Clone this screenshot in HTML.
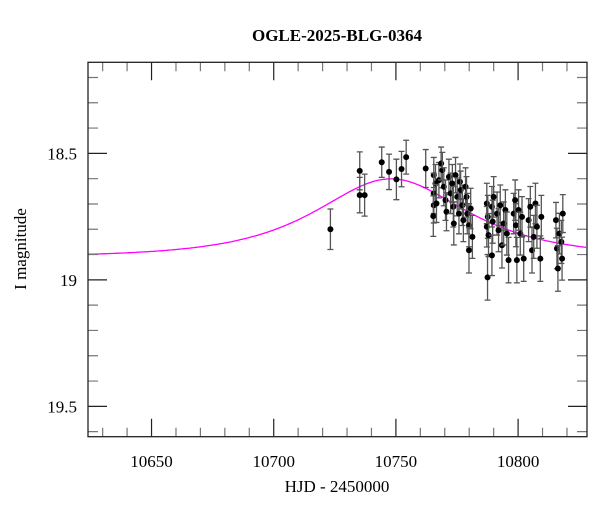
<!DOCTYPE html>
<html><head><meta charset="utf-8"><style>
body{margin:0;background:#fff;}
svg{display:block;font-family:"Liberation Serif",serif;}
</style></head><body>
<svg id="chart" width="600" height="512">
<text x="337" y="41" text-anchor="middle" font-size="17" font-weight="bold">OGLE-2025-BLG-0364</text>
<text x="337" y="492" text-anchor="middle" font-size="17">HJD - 2450000</text>
<text transform="translate(26,249) rotate(-90)" text-anchor="middle" font-size="17">I magnitude</text>
<g id="plot"></g>
</svg>
<script>
const xTicks=[10650,10700,10750,10800];
const yTicks=[18.5,19,19.5];
const yTickLabels=["18.5","19","19.5"];
const hjd=[10723.2,10735.2,10735.2,10737.2,10744.2,10747.2,10750.2,10752.3,10754.2,10762.2,
10765.5,10766.2,10765.5,10765.5,10765.3,10766.6,10767.6,10768.5,10769,10769.6,10770.3,10770.7,10771.7,10772.4,10773.1,10773.5,10773.7,10774.4,10775.1,10775.8,10776.2,10776.5,10777.2,10777.6,10778.5,10778.9,10779.2,10779.9,10780.6,10781.3,10779.9,
10787.2,10787.6,10787.2,10787.9,10787.5,10789.3,10789.6,10789.3,10790,10791.4,10792,10792.7,10793.4,10794.1,10794.8,10795.4,10796.1,10798.2,10798.8,10799.1,10799.5,10800.2,10800.9,10801.6,10802.3,10804.3,10805,10805.7,10806.4,10807.1,10807.7,10809.1,10809.5,
10815.5,10815.9,10816.3,10816.9,10817.7,10818.3,10818];
const mag=[18.80,18.569,18.665,18.665,18.535,18.573,18.603,18.562,18.515,18.56,
18.586,18.619,18.658,18.705,18.748,18.698,18.606,18.54,18.566,18.632,18.685,18.731,18.593,18.658,18.619,18.711,18.777,18.586,18.672,18.738,18.612,18.645,18.705,18.764,18.632,18.672,18.738,18.784,18.718,18.83,18.883,
18.698,18.751,18.79,18.823,18.99,18.711,18.77,18.903,18.672,18.738,18.804,18.705,18.863,18.777,18.724,18.817,18.922,18.738,18.685,18.784,18.922,18.724,18.817,18.751,18.916,18.764,18.711,18.883,18.83,18.698,18.79,18.916,18.751,
18.764,18.876,18.955,18.817,18.85,18.738,18.916];
const magErr=[0.08,0.075,0.07,0.083,0.06,0.07,0.08,0.07,0.067,0.075,
0.07,0.075,0.08,0.07,0.08,0.075,0.07,0.065,0.07,0.075,0.08,0.075,0.07,0.08,0.075,0.08,0.085,0.07,0.075,0.08,0.07,0.075,0.08,0.085,0.075,0.08,0.08,0.085,0.08,0.085,0.09,
0.08,0.085,0.08,0.085,0.09,0.08,0.085,0.08,0.08,0.085,0.085,0.08,0.09,0.085,0.08,0.085,0.09,0.08,0.08,0.085,0.09,0.08,0.085,0.08,0.09,0.085,0.08,0.09,0.085,0.08,0.085,0.09,0.085,
0.07,0.08,0.09,0.08,0.085,0.075,0.085];
// model parameters (Paczynski curve)
const modelT0=10748, modelU0=0.9, modelTE=40, modelFs=0.778, modelBase=18.91;

const L=88,R=587,T=62.3,B=436.7;
const X0=10624,X1=10828.2,Y0=18.14,Y1=19.62;
const sx=v=>L+(v-X0)/(X1-X0)*(R-L);
const sy=v=>T+(v-Y0)/(Y1-Y0)*(B-T);
const NS="http://www.w3.org/2000/svg";
const g=document.getElementById('plot');
function mk(tag,attrs){const e=document.createElementNS(NS,tag);for(const k in attrs)e.setAttribute(k,attrs[k]);g.appendChild(e);return e;}

// model curve
let d="";
for(let px=L;px<=R;px+=2){
  const t=X0+(px-L)/(R-L)*(X1-X0);
  const tau=(t-modelT0)/modelTE;
  const u=Math.sqrt(modelU0*modelU0+tau*tau);
  const A=(u*u+2)/(u*Math.sqrt(u*u+4));
  const m=modelBase-2.5*Math.log10(1+modelFs*(A-1));
  d+=(px===L?"M":"L")+px.toFixed(1)+","+sy(m).toFixed(1);
}
const curve=mk('path',{d:d,fill:'none',stroke:'#ff00ff','stroke-width':1.3});



// data points
for(let i=0;i<hjd.length;i++){
  const x=sx(hjd[i]),y=sy(mag[i]),y1=sy(mag[i]-magErr[i]),y2=sy(mag[i]+magErr[i]);
  const eb=mk('path',{d:`M${x},${y1}L${x},${y2}M${x-3},${y1}L${x+3},${y1}M${x-3},${y2}L${x+3},${y2}`,stroke:'#555','stroke-width':1.3,fill:'none'});
  
  
  const c=mk('circle',{cx:x,cy:y,r:3,fill:'#000'});
  
  
}

// ticks
for(let v=10630;v<=10820;v+=10){
  const x=sx(v),major=v%50===0,len=major?18:9;
  const tk=mk('path',{d:`M${x},${B}L${x},${B-len}M${x},${T}L${x},${T+len}`,stroke:major?'#222':'#777','stroke-width':1.2});
  
  
}
xTicks.forEach(v=>{
  const t=mk('text',{x:sx(v),y:467,'text-anchor':'middle','font-size':17});
  t.textContent=String(v);
  
  
});
for(let k=2;k<=16;k++){
  const v=18+k/10,y=sy(v),major=k%5===0,len=major?19:10;
  const tk=mk('path',{d:`M${L},${y}L${L+len},${y}M${R},${y}L${R-len},${y}`,stroke:major?'#222':'#777','stroke-width':1.2});
  
  
}
yTicks.forEach((v,i)=>{
  const t=mk('text',{x:77,y:sy(v)+6,'text-anchor':'end','font-size':17});
  t.textContent=yTickLabels[i];
  
  
});
const fr=mk('rect',{x:L,y:T,width:R-L,height:B-T,fill:'none',stroke:'#222','stroke-width':1.3});


</script>
</body></html>
